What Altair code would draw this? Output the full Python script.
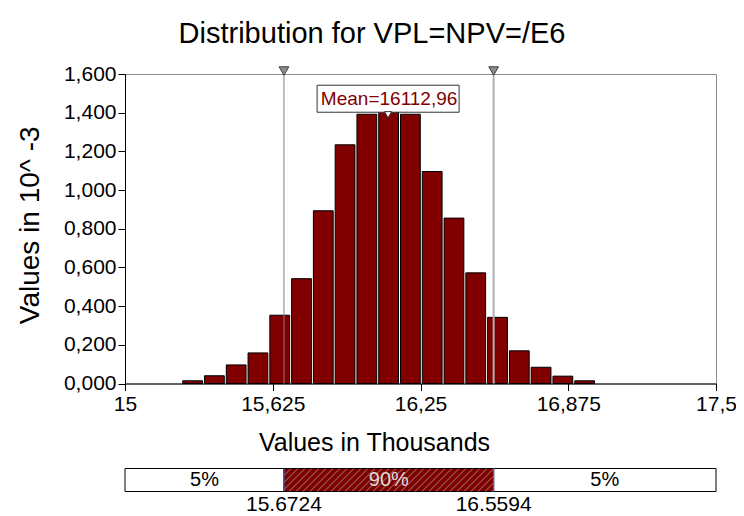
import altair as alt
import numpy as np
import pandas as pd

# ---------------- data ----------------
bin_edges = [15.2378, 15.3299, 15.4221, 15.5142, 15.6063, 15.6985, 15.7906,
             15.8827, 15.9748, 16.0670, 16.1591, 16.2512, 16.3434, 16.4355,
             16.5276, 16.6198, 16.7119, 16.8040, 16.8962, 16.9883]
densities = [0.014, 0.040, 0.096, 0.158, 0.353, 0.542, 0.893, 1.234, 1.392,
             1.405, 1.392, 1.096, 0.855, 0.572, 0.342, 0.169, 0.084, 0.038, 0.014]
x_ticks = [15, 15.625, 16.25, 16.875, 17.5]
y_ticks = [0.0, 0.2, 0.4, 0.6, 0.8, 1.0, 1.2, 1.4, 1.6]
x_domain = [15, 17.5]
y_domain = [0, 1.6]
lower_5 = 15.6724
upper_5 = 16.5594
mean_val = 16.11296
mean_label = "Mean=16112,96"
strip_labels = ["5%", "90%", "5%"]
bound_labels = ["15.6724", "16.5594"]
title_text = "Distribution for VPL=NPV=/E6"
x_title = "Values in Thousands"
y_title = "Values in 10^ -3"

# ---------------- styling ----------------
FONT = "Liberation Sans"
RED = "#800000"
W, H = 591, 309.5

bars = pd.DataFrame({"x0": bin_edges[:-1], "x1": bin_edges[1:], "d": densities})
xscale = alt.Scale(domain=x_domain, nice=False, zero=False)
yscale = alt.Scale(domain=y_domain, nice=False)

x_axis = alt.Axis(values=x_ticks, tickCount=len(x_ticks),
                  labelExpr="replace(toString(datum.value), '.', ',')",
                  title=x_title, titleX=249, titleY=59,
                  titleAlign="center", titleBaseline="middle",
                  titleFontSize=25, labelPadding=3,
                  labelOverlap=False, labelFlush=False)
y_axis = alt.Axis(values=y_ticks, tickCount=len(y_ticks),
                  labelExpr="replace(format(datum.value, '.3f'), '.', ',')",
                  title=y_title, titleX=-95, titleY=H / 2 - 4,
                  titleAngle=270, titleAlign="center",
                  titleBaseline="middle", titleFontSize=28,
                  labelPadding=2, labelOverlap=False, labelFlush=False)

hist = alt.Chart(bars).mark_bar(
    color=RED, stroke="black", strokeWidth=1, binSpacing=2
).encode(
    x=alt.X("x0:Q", bin="binned", scale=xscale, axis=x_axis),
    x2="x1",
    y=alt.Y("d:Q", scale=yscale, axis=y_axis),
)

bounds = pd.DataFrame({"x": [lower_5, upper_5], "c": ["#808080", "#b0b0b0"],
                       "w": [1, 2]})
vlines = alt.Chart(bounds).mark_rule().encode(
    x=alt.X("x:Q", axis=x_axis),
    color=alt.Color("c:N", scale=None),
    strokeWidth=alt.StrokeWidth("w:Q", scale=None),
)
tri_top = alt.Chart(bounds).mark_point(
    shape="triangle-down", filled=True, fill="#8c8c8c", stroke="#404040",
    strokeWidth=1, size=95, yOffset=-3, opacity=1
).encode(x=alt.X("x:Q", axis=x_axis), y=alt.Y(datum=y_domain[1], axis=y_axis))

peak = max(densities)
mean_df = pd.DataFrame({"x": [mean_val], "y": [peak], "t": [mean_label]})
mean_box = alt.Chart(mean_df).mark_rect(
    width=142, height=27, fill="white", stroke="#333333", strokeWidth=1,
    yOffset=-13
).encode(x=alt.X("x:Q", axis=x_axis), y=alt.Y("y:Q", axis=y_axis))
mean_txt = alt.Chart(mean_df).mark_text(
    font=FONT, fontSize=19, color=RED, baseline="middle", align="center",
    yOffset=-13, dx=1
).encode(x=alt.X("x:Q", axis=x_axis), y=alt.Y("y:Q", axis=y_axis), text="t:N")
mean_tri = alt.Chart(mean_df).mark_point(
    shape="triangle-down", filled=True, fill="white", stroke="#333333",
    strokeWidth=1, size=50, yOffset=3, opacity=1
).encode(x=alt.X("x:Q", axis=x_axis), y=alt.Y("y:Q", axis=y_axis))

# ---------------- lower strip (5% / 90% / 5%) ----------------
strip_scale = alt.Scale(domain=[0, 1], range=[H + 108, H + 85])
seg = pd.DataFrame({
    "a": [x_domain[0], lower_5, upper_5],
    "b": [lower_5, upper_5, x_domain[1]],
    "fill": ["white", RED, "white"],
    "lab": strip_labels,
    "tc": ["black", "#dcdcdc", "black"],
})
seg["mid"] = (seg["a"] + seg["b"]) / 2
strip_rect = alt.Chart(seg).mark_rect(stroke="black", strokeWidth=1).encode(
    x=alt.X("a:Q", axis=x_axis), x2="b:Q",
    y=alt.Y("y0:Q", scale=strip_scale, axis=None), y2="y1:Q",
    fill=alt.Fill("fill:N", scale=None),
).transform_calculate(y0="0", y1="1")

# hatch lines inside the 90% band (45 degrees in pixels)
dx = 23 / (W / (x_domain[1] - x_domain[0]))
step = 7 / (W / (x_domain[1] - x_domain[0]))
rows = []
s = lower_5 - dx
while s < upper_5:
    xa, ya = s, 0.0
    xb, yb = s + dx, 1.0
    if xa < lower_5:
        ya = (lower_5 - s) / dx
        xa = lower_5
    if xb > upper_5:
        yb = (upper_5 - s) / dx
        xb = upper_5
    rows.append({"xa": xa, "xb": xb, "ya": ya, "yb": yb})
    s += step
hatch_df = pd.DataFrame(rows)
hatch = alt.Chart(hatch_df).mark_rule(color="#a8a8a8", strokeWidth=0.8).encode(
    x=alt.X("xa:Q", axis=x_axis), x2="xb:Q",
    y=alt.Y("ya:Q", scale=strip_scale, axis=None), y2="yb:Q"
)
edge_df = pd.DataFrame({"x": [lower_5, upper_5]})
edges = alt.Chart(edge_df).mark_rule(color="#6060b0", strokeWidth=1.2).encode(
    x=alt.X("x:Q", axis=x_axis), y=alt.Y(datum=0, axis=None), y2=alt.datum(1)
)
strip_txt = alt.Chart(seg).mark_text(
    font=FONT, fontSize=20, baseline="middle", align="center"
).encode(
    x=alt.X("mid:Q", axis=x_axis), y=alt.Y(datum=0.5, axis=None), text="lab:N",
    color=alt.Color("tc:N", scale=None),
)
bl = pd.DataFrame({"x": [lower_5, upper_5], "t": bound_labels})
bound_txt = alt.Chart(bl).mark_text(
    font=FONT, fontSize=21, baseline="middle", align="center"
).encode(x=alt.X("x:Q", axis=x_axis), y=alt.Y(datum=-0.57, axis=None),
         text="t:N")

strip = alt.layer(strip_rect, hatch, edges, strip_txt, bound_txt)
main = alt.layer(hist, vlines, tri_top, mean_box, mean_tri, mean_txt)

chart = alt.layer(main, strip).resolve_scale(y="independent").properties(
    width=W, height=H,
    padding={"left": 8, "top": 12, "right": -1, "bottom": 0},
    title=alt.TitleParams(title_text, font=FONT, fontSize=29,
                          fontWeight="normal", anchor="middle", dx=-48.5,
                          offset=14, color="black"),
).configure_view(stroke="#8c8c8c", strokeWidth=1).configure_axis(
    domainColor="black", tickColor="black", tickSize=7, grid=False,
    labelFont=FONT, labelFontSize=21, labelColor="black",
    titleFont=FONT, titleFontSize=24, titleFontWeight="normal",
    titleColor="black", labelOverlap=False, labelFlush=False,
)

chart.save("out.html", embed_options={"renderer": "svg", "actions": False})
